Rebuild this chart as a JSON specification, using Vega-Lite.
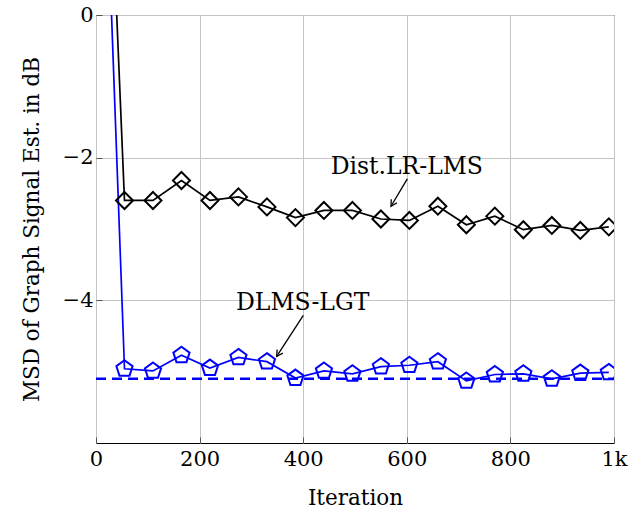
{
  "$schema": "https://vega.github.io/schema/vega-lite/v6.json",
  "width": 518,
  "height": 428,
  "autosize": {"type": "none"},
  "padding": {"left": 96, "top": 15, "right": 17, "bottom": 75},
  "background": "white",
  "config": {
    "view": {"stroke": "black", "strokeWidth": 1},
    "axis": {
      "labelFont": "DejaVu Serif",
      "titleFont": "DejaVu Serif",
      "labelFontSize": 21,
      "titleFontSize": 21.5,
      "titleFontWeight": "normal",
      "labelColor": "black",
      "titleColor": "black",
      "domain": false,
      "labelFlush": false,
      "gridColor": "#c4c4c4",
      "gridWidth": 1,
      "tickColor": "#555555",
      "tickSize": -6,
      "tickWidth": 1
    }
  },
  "datasets": {
    "series": [
      {"series": "Dist.LR-LMS", "iter": 0, "msd": 6.93},
      {"series": "Dist.LR-LMS", "iter": 55, "msd": -2.60},
      {"series": "Dist.LR-LMS", "iter": 110, "msd": -2.60},
      {"series": "Dist.LR-LMS", "iter": 165, "msd": -2.32},
      {"series": "Dist.LR-LMS", "iter": 220, "msd": -2.60},
      {"series": "Dist.LR-LMS", "iter": 275, "msd": -2.55},
      {"series": "Dist.LR-LMS", "iter": 330, "msd": -2.69},
      {"series": "Dist.LR-LMS", "iter": 385, "msd": -2.84},
      {"series": "Dist.LR-LMS", "iter": 440, "msd": -2.74},
      {"series": "Dist.LR-LMS", "iter": 495, "msd": -2.74},
      {"series": "Dist.LR-LMS", "iter": 550, "msd": -2.86},
      {"series": "Dist.LR-LMS", "iter": 605, "msd": -2.88},
      {"series": "Dist.LR-LMS", "iter": 660, "msd": -2.68},
      {"series": "Dist.LR-LMS", "iter": 715, "msd": -2.94},
      {"series": "Dist.LR-LMS", "iter": 770, "msd": -2.82},
      {"series": "Dist.LR-LMS", "iter": 825, "msd": -3.01},
      {"series": "Dist.LR-LMS", "iter": 880, "msd": -2.95},
      {"series": "Dist.LR-LMS", "iter": 935, "msd": -3.02},
      {"series": "Dist.LR-LMS", "iter": 990, "msd": -2.97},
      {"series": "DLMS-LGT", "iter": 0, "msd": 5.95},
      {"series": "DLMS-LGT", "iter": 55, "msd": -4.96},
      {"series": "DLMS-LGT", "iter": 110, "msd": -4.99},
      {"series": "DLMS-LGT", "iter": 165, "msd": -4.77},
      {"series": "DLMS-LGT", "iter": 220, "msd": -4.95},
      {"series": "DLMS-LGT", "iter": 275, "msd": -4.80},
      {"series": "DLMS-LGT", "iter": 330, "msd": -4.86},
      {"series": "DLMS-LGT", "iter": 385, "msd": -5.09},
      {"series": "DLMS-LGT", "iter": 440, "msd": -4.99},
      {"series": "DLMS-LGT", "iter": 495, "msd": -5.03},
      {"series": "DLMS-LGT", "iter": 550, "msd": -4.93},
      {"series": "DLMS-LGT", "iter": 605, "msd": -4.91},
      {"series": "DLMS-LGT", "iter": 660, "msd": -4.86},
      {"series": "DLMS-LGT", "iter": 715, "msd": -5.13},
      {"series": "DLMS-LGT", "iter": 770, "msd": -5.04},
      {"series": "DLMS-LGT", "iter": 825, "msd": -5.03},
      {"series": "DLMS-LGT", "iter": 880, "msd": -5.10},
      {"series": "DLMS-LGT", "iter": 935, "msd": -5.02},
      {"series": "DLMS-LGT", "iter": 990, "msd": -5.01}
    ],
    "bound": [
      {"iter": 0, "msd": -5.10},
      {"iter": 1000, "msd": -5.10}
    ],
    "arrows": [
      {"name": "a1", "x": 601, "y": -2.298, "x2": 569.5, "y2": -2.681},
      {"name": "a2", "x": 400.2, "y": -4.21, "x2": 348.8, "y2": -4.787}
    ],
    "labels": [
      {"label": "Dist.LR-LMS", "x": 600, "y": -2.228},
      {"label": "DLMS-LGT", "x": 399, "y": -4.136}
    ]
  },
  "layer": [
    {
      "data": {"name": "bound"},
      "mark": {"type": "line", "color": "#0000ff", "strokeWidth": 2.6, "strokeDash": [10, 6]},
      "encoding": {
        "x": {
          "field": "iter", "type": "quantitative",
          "scale": {"domain": [0, 1000], "nice": false},
          "axis": {
            "values": [0, 200, 400, 600, 800, 1000],
            "labelExpr": "datum.value == 1000 ? '1k' : datum.label",
            "title": "Iteration",
            "labelPadding": 11,
            "titlePadding": 18,
            "grid": true
          }
        },
        "y": {
          "field": "msd", "type": "quantitative",
          "scale": {"domain": [-6, 0], "nice": false, "zero": false},
          "axis": {
            "values": [0, -2, -4],
            "format": "d",
            "title": "MSD of Graph Signal Est. in dB",
            "labelPadding": 9,
            "titlePadding": 19,
            "grid": true
          }
        }
      }
    },
    {
      "data": {"name": "series"},
      "mark": {"type": "line", "clip": true, "strokeWidth": 1.7},
      "encoding": {
        "x": {"field": "iter", "type": "quantitative"},
        "y": {"field": "msd", "type": "quantitative"},
        "color": {
          "field": "series", "type": "nominal",
          "scale": {"domain": ["Dist.LR-LMS", "DLMS-LGT"], "range": ["#000000", "#0000ff"]},
          "legend": null
        }
      }
    },
    {
      "data": {"name": "series"},
      "mark": {"type": "point", "clip": true, "filled": false, "strokeWidth": 2, "opacity": 1},
      "encoding": {
        "x": {"field": "iter", "type": "quantitative"},
        "y": {"field": "msd", "type": "quantitative"},
        "color": {
          "field": "series", "type": "nominal",
          "scale": {"domain": ["Dist.LR-LMS", "DLMS-LGT"], "range": ["#000000", "#0000ff"]},
          "legend": null
        },
        "shape": {
          "field": "series", "type": "nominal",
          "scale": {"domain": ["Dist.LR-LMS", "DLMS-LGT"], "range": ["M0,-1L1,0L0,1L-1,0Z", "M0,-1L0.951,-0.309L0.588,0.809L-0.588,0.809L-0.951,-0.309Z"]},
          "legend": null
        },
        "size": {"value": 289}
      }
    },
    {
      "data": {"name": "arrows"},
      "mark": {"type": "rule", "color": "black", "strokeWidth": 1.3},
      "encoding": {
        "x": {"field": "x", "type": "quantitative"},
        "y": {"field": "y", "type": "quantitative"},
        "x2": {"field": "x2"},
        "y2": {"field": "y2"}
      }
    },
    {
      "data": {"name": "arrows"},
      "transform": [{"filter": "datum.name == 'a1'"}],
      "mark": {"type": "point", "shape": "M-0.55,1L0,0L0.55,1", "filled": false, "color": "black", "strokeWidth": 1.3, "size": 150, "angle": 210.8, "opacity": 1},
      "encoding": {
        "x": {"field": "x2", "type": "quantitative"},
        "y": {"field": "y2", "type": "quantitative"}
      }
    },
    {
      "data": {"name": "arrows"},
      "transform": [{"filter": "datum.name == 'a2'"}],
      "mark": {"type": "point", "shape": "M-0.55,1L0,0L0.55,1", "filled": false, "color": "black", "strokeWidth": 1.3, "size": 150, "angle": 212.8, "opacity": 1},
      "encoding": {
        "x": {"field": "x2", "type": "quantitative"},
        "y": {"field": "y2", "type": "quantitative"}
      }
    },
    {
      "data": {"name": "labels"},
      "mark": {"type": "text", "font": "DejaVu Serif", "fontSize": 23.5, "align": "center", "baseline": "alphabetic", "color": "black"},
      "encoding": {
        "x": {"field": "x", "type": "quantitative"},
        "y": {"field": "y", "type": "quantitative"},
        "text": {"field": "label"}
      }
    }
  ]
}
